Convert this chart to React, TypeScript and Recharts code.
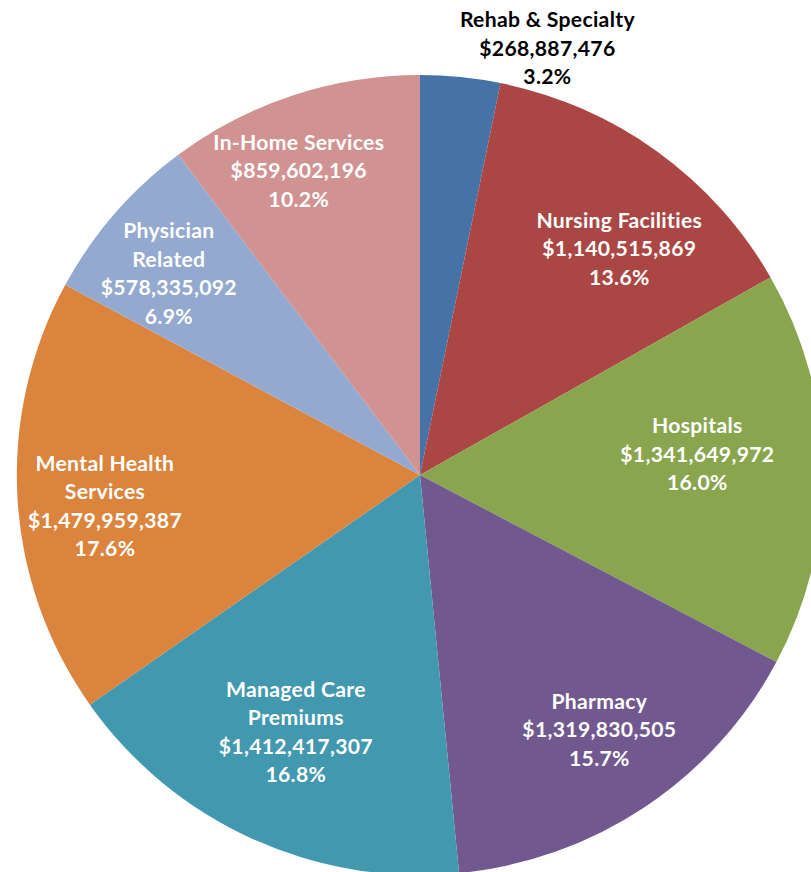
import React from "react";
import { PieChart, Pie, Cell } from "recharts";

const categories = [
  "Rehab & Specialty",
  "Nursing Facilities",
  "Hospitals",
  "Pharmacy",
  "Managed Care Premiums",
  "Mental Health Services",
  "Physician Related",
  "In-Home Services",
];

const amounts = [
  268887476, 1140515869, 1341649972, 1319830505, 1412417307, 1479959387,
  578335092, 859602196,
];

const percentLabels = ["3.2%", "13.6%", "16.0%", "15.7%", "16.8%", "17.6%", "6.9%", "10.2%"];

const colors = [
  "#4572A7",
  "#AA4643",
  "#89A54E",
  "#71588F",
  "#4198AF",
  "#DB843D",
  "#93A9CF",
  "#D19392",
];

// label layout: radius from centre, angle nudge (deg, clockwise), name line breaks
const labelLayout: Record<string, { r: number; d: number; lines: string[]; dark?: boolean }> = {
  "Rehab & Specialty": { r: 446, d: 10.7, lines: ["Rehab & Specialty"], dark: true },
  "Nursing Facilities": { r: 301, d: 5.1, lines: ["Nursing Facilities"] },
  Hospitals: { r: 276, d: -3.7, lines: ["Hospitals"] },
  Pharmacy: { r: 310, d: -1.2, lines: ["Pharmacy"] },
  "Managed Care Premiums": { r: 284, d: 1.0, lines: ["Managed Care", "Premiums"] },
  "Mental Health Services": { r: 314, d: -2.2, lines: ["Mental Health", "Services"] },
  "Physician Related": { r: 321, d: -1.7, lines: ["Physician", "Related"] },
  "In-Home Services": { r: 328, d: -3.1, lines: ["In-Home Services"] },
};

const data = categories.map((name, i) => ({
  name,
  value: amounts[i],
  pct: percentLabels[i],
}));

const RAD = Math.PI / 180;
const LINE_H = 28.5;

const renderLabel = (props: any) => {
  const { cx, cy, midAngle, payload, index } = props;
  const name = payload?.name ?? data[index].name;
  const lay = labelLayout[name];
  const ang = midAngle - lay.d; // recharts angles are counter-clockwise
  const x = cx + lay.r * Math.cos(-ang * RAD);
  const y = cy + lay.r * Math.sin(-ang * RAD);
  const lines = [
    ...lay.lines,
    "$" + Number(payload?.value ?? data[index].value).toLocaleString("en-US"),
    payload?.pct ?? data[index].pct,
  ];
  const n = lines.length;
  return (
    <text
      key={`lbl-${index}`}
      x={x}
      y={y}
      textAnchor="middle"
      fill={lay.dark ? "#000000" : "#FFFFFF"}
      style={{
        fontFamily: "Lato, 'Open Sans', sans-serif",
        fontWeight: 700,
        fontSize: 21,
        letterSpacing: 0.3,
      }}
    >
      {lines.map((t, i) => (
        <tspan key={i} x={x} y={y + (i - (n - 1) / 2) * LINE_H} dominantBaseline="central">
          {t}
        </tspan>
      ))}
    </text>
  );
};

export default function App() {
  return (
    <div
      style={{
        position: "fixed",
        left: 0,
        top: 0,
        width: 811,
        height: 872,
        overflow: "hidden",
        background: "#FFFFFF",
      }}
    >
      <div style={{ transform: "scaleX(1.008)", transformOrigin: "420px 475px" }}>
        <PieChart width={811} height={872} margin={{ top: 0, right: 0, bottom: 0, left: 0 }}>
          <Pie
            data={data}
            dataKey="value"
            nameKey="name"
            cx={420}
            cy={475}
            outerRadius={400}
            startAngle={90}
            endAngle={-270}
            stroke="none"
            labelLine={false}
            label={renderLabel}
            isAnimationActive={false}
          >
            {data.map((d, i) => (
              <Cell key={d.name} fill={colors[i]} />
            ))}
          </Pie>
        </PieChart>
      </div>
    </div>
  );
}
